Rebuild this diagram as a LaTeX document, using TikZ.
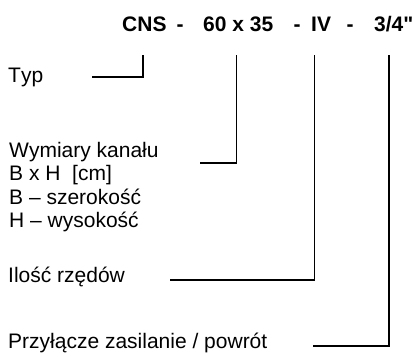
\documentclass[tikz,border=0pt]{standalone}
\usepackage{fontspec}
\setmainfont{Liberation Sans}[Ligatures=TeXOff,Kerning=Off]
\begin{document}
\begin{tikzpicture}[x=1pt,y=-1pt,
  lbl/.style={inner sep=0pt,anchor=base west,font=\fontsize{21}{24}\selectfont},
  hdr/.style={inner sep=0pt,anchor=base west,font=\fontsize{21}{24}\selectfont\bfseries},
  hdrc/.style={inner sep=0pt,anchor=base,font=\fontsize{21}{24}\selectfont\bfseries},
  conn/.style={line width=1.5pt,line join=miter}]
\useasboundingbox (0,0) rectangle (414,356);
% header
\node[hdr] (cns) at (122,31) {CNS};
\node[hdrc] (d1) at (180,31) {-};
\node[hdr] (dim) at (203,31) {60 x 35};
\node[hdrc] (d2) at (297,31) {-};
\node[hdr] (iv) at (311,31) {IV};
\node[hdrc] (d3) at (350,31) {-};
\node[hdr] (pipe) at (374,31) {3/4"};
% labels
\node[lbl] (typ) at (8,82) {Typ};
\node[lbl] (wym) at (9,157) {Wymiary kanału};
\node[lbl] (bxh) at (9,180.5) {B x H\ \ [cm]};
\node[lbl] (bsz) at (9,204) {B – szerokość};
\node[lbl] (hwy) at (9,227.5) {H – wysokość};
\node[lbl] (ilosc) at (8,282) {Ilość rzędów};
\node[lbl] (przy) at (8,348) {Przyłącze zasilanie / powrót};
% connector coordinates
\coordinate (t1) at (143,55);
\coordinate (e1) at (92,77);
\coordinate (t2) at (236.5,55);
\coordinate (e2) at (200,163);
\coordinate (t3) at (314.5,55);
\coordinate (e3) at (170,280);
\coordinate (t4) at (389,55);
\coordinate (e4) at (313,346);
% connectors
\draw[conn] (t1) |- (e1);
\draw[conn] (t2) |- (e2);
\draw[conn] (t3) |- (e3);
\draw[conn] (t4) |- (e4);
\end{tikzpicture}
\end{document}
